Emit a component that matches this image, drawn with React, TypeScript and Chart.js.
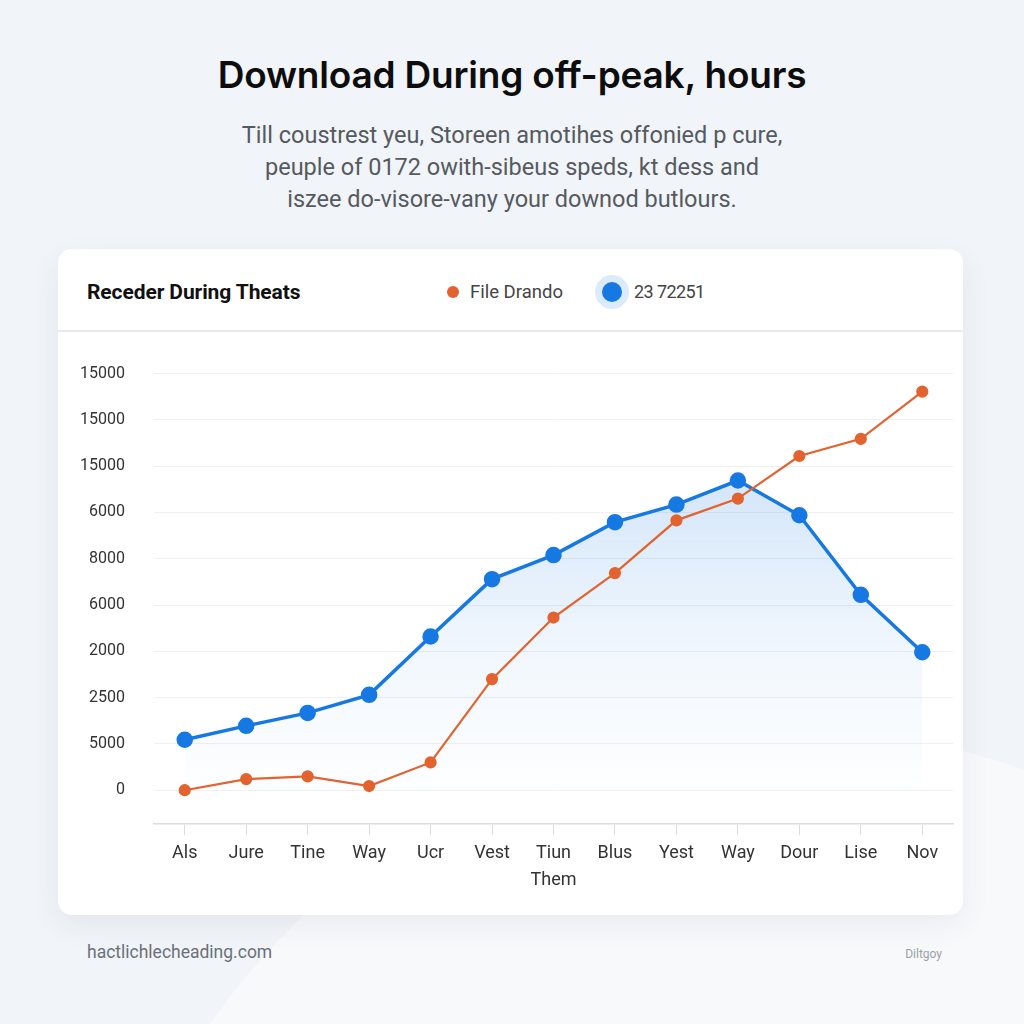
import React, { useEffect, useRef } from "react";
import { Chart, registerables } from "chart.js";

Chart.register(...registerables);

const categories = ["Als", "Jure", "Tine", "Way", "Ucr", "Vest", "Tiun", "Blus", "Yest", "Way", "Dour", "Lise", "Nov"];
const fileDrandoValues = [0.0, 0.24, 0.3, 0.09, 0.6, 2.4, 3.73, 4.69, 5.83, 6.3, 7.22, 7.59, 8.61];
const blueSeriesValues = [1.09, 1.39, 1.67, 2.06, 3.32, 4.56, 5.08, 5.79, 6.17, 6.69, 5.94, 4.22, 2.98];
const yTickLabels = ["0", "5000", "2500", "2000", "6000", "8000", "6000", "15000", "15000", "15000"];
const seriesNames = ["File Drando", "23 72251"];

const ORANGE = "#e2632f";
const BLUE = "#1679e3";

function ChartCanvas() {
  const ref = useRef<HTMLCanvasElement | null>(null);
  useEffect(() => {
    if (!ref.current) return;
    const chart = new Chart(ref.current, {
      type: "line",
      data: {
        labels: categories,
        datasets: [
          {
            label: seriesNames[0],
            data: fileDrandoValues,
            borderColor: ORANGE,
            backgroundColor: ORANGE,
            pointBackgroundColor: ORANGE,
            pointBorderColor: ORANGE,
            borderWidth: 2.2,
            pointRadius: 5,
            tension: 0,
            fill: false,
          },
          {
            label: seriesNames[1],
            data: blueSeriesValues,
            borderColor: BLUE,
            pointBackgroundColor: BLUE,
            pointBorderColor: BLUE,
            borderWidth: 3.5,
            pointRadius: 6.5,
            tension: 0,
            fill: "origin",
            backgroundColor: (ctx: any) => {
              const area = ctx.chart.chartArea;
              if (!area) return "rgba(22,121,227,0.12)";
              const g = ctx.chart.ctx.createLinearGradient(0, area.top + 100, 0, area.bottom - 20);
              g.addColorStop(0, "rgba(22,121,227,0.19)");
              g.addColorStop(0.55, "rgba(22,121,227,0.06)");
              g.addColorStop(1, "rgba(22,121,227,0.0)");
              return g;
            },
          },
        ],
      },
      options: {
        responsive: false,
        maintainAspectRatio: false,
        animation: false,
        layout: { padding: { left: 0, right: 7, top: 29, bottom: 0 } },
        plugins: {
          legend: { display: false },
          tooltip: { enabled: false },
        },
        scales: {
          x: {
            offset: true,
            grid: {
              display: true,
              drawOnChartArea: false,
              offset: false,
              tickLength: 11,
              color: "#d9dce1",
            },
            border: { display: true, color: "#d9dce1", width: 1.5 },
            ticks: {
              color: "#333",
              font: { family: "Roboto", size: 18 },
              padding: 8,
              autoSkip: false,
              maxRotation: 0,
            },
            title: {
              display: true,
              text: "Them",
              color: "#333",
              font: { family: "Roboto", size: 18 },
              padding: { top: 0, bottom: 19 },
            },
            afterFit: (s: any) => {
              s.height = 86;
            },
          },
          y: {
            min: -0.73,
            max: 9,
            afterBuildTicks: (s: any) => {
              s.ticks = yTickLabels.map((_, i) => ({ value: i }));
            },
            ticks: {
              callback: (v: any) => yTickLabels[Math.round(Number(v))] ?? "",
              color: "#333",
              font: { family: "Roboto", size: 16 },
              padding: 29,
            },
            grid: { color: "#eef0f3", drawTicks: false },
            border: { display: false },
            afterFit: (s: any) => {
              s.width = 96;
            },
          },
        },
      },
    } as any);
    return () => chart.destroy();
  }, []);
  return (
    <canvas
      ref={ref}
      width={905}
      height={575}
      style={{ position: "absolute", left: 0, top: 86, width: 905, height: 575 }}
    />
  );
}

export default function App() {
  return (
    <div
      style={{
        position: "absolute",
        left: 0,
        top: 0,
        width: 1024,
        height: 1024,
        overflow: "hidden",
        background: "#f1f4f8",
        fontFamily: "Roboto, sans-serif",
      }}
    >
      <div
        style={{
          position: "absolute",
          left: 780 - 694,
          top: 1420 - 694,
          width: 1388,
          height: 1388,
          borderRadius: "50%",
          background: "#f8f9fb",
        }}
      />
      <div
        style={{
          position: "absolute",
          left: 0,
          top: 53,
          width: 1024,
          textAlign: "center",
          fontFamily: "Inter, sans-serif",
          fontWeight: 600,
          fontSize: 37,
          lineHeight: "44px",
          color: "#0d0d0d",
          letterSpacing: -0.2,
        }}
      >
        Download During off-peak, hours
      </div>
      <div
        style={{
          position: "absolute",
          left: 0,
          top: 119,
          width: 1024,
          textAlign: "center",
          fontSize: 23.5,
          lineHeight: "32px",
          color: "#555a60",
        }}
      >
        <div>Till coustrest yeu, Storeen amotihes offonied p cure,</div>
        <div>peuple of 0172 owith-sibeus speds, kt dess and</div>
        <div>iszee do-visore-vany your downod butlours.</div>
      </div>

      <div
        style={{
          position: "absolute",
          left: 58,
          top: 249,
          width: 905,
          height: 666,
          background: "#ffffff",
          borderRadius: 14,
          boxShadow: "0 10px 30px rgba(40,60,90,0.07)",
        }}
      >
        <div
          style={{
            position: "absolute",
            left: 29,
            top: 30,
            fontSize: 21,
            lineHeight: "26px",
            fontWeight: 700,
            color: "#111",
            letterSpacing: -0.1,
          }}
        >
          Receder During Theats
        </div>
        <div
          style={{
            position: "absolute",
            left: 389,
            top: 37,
            width: 12,
            height: 12,
            borderRadius: "50%",
            background: ORANGE,
          }}
        />
        <div
          style={{
            position: "absolute",
            left: 412,
            top: 31,
            fontSize: 18.5,
            lineHeight: "24px",
            color: "#444",
          }}
        >
          {seriesNames[0]}
        </div>
        <div
          style={{
            position: "absolute",
            left: 537,
            top: 26,
            width: 34,
            height: 34,
            borderRadius: "50%",
            background: "rgba(22,121,227,0.15)",
          }}
        />
        <div
          style={{
            position: "absolute",
            left: 544,
            top: 33,
            width: 20,
            height: 20,
            borderRadius: "50%",
            background: BLUE,
          }}
        />
        <div
          style={{
            position: "absolute",
            left: 576,
            top: 31,
            fontSize: 18,
            lineHeight: "24px",
            color: "#444",
            letterSpacing: -0.6,
          }}
        >
          {seriesNames[1]}
        </div>
        <div
          style={{
            position: "absolute",
            left: 0,
            top: 81,
            width: 905,
            height: 1.5,
            background: "#e8eaed",
          }}
        />
        <ChartCanvas />
      </div>

      <div
        style={{
          position: "absolute",
          left: 87,
          top: 941,
          fontSize: 17.5,
          lineHeight: "22px",
          color: "#6b7079",
        }}
      >
        hactlichlecheading.com
      </div>
      <div
        style={{
          position: "absolute",
          right: 1024 - 942,
          top: 946,
          fontSize: 12,
          lineHeight: "16px",
          color: "#9aa0a8",
        }}
      >
        Diltgoy
      </div>
    </div>
  );
}
